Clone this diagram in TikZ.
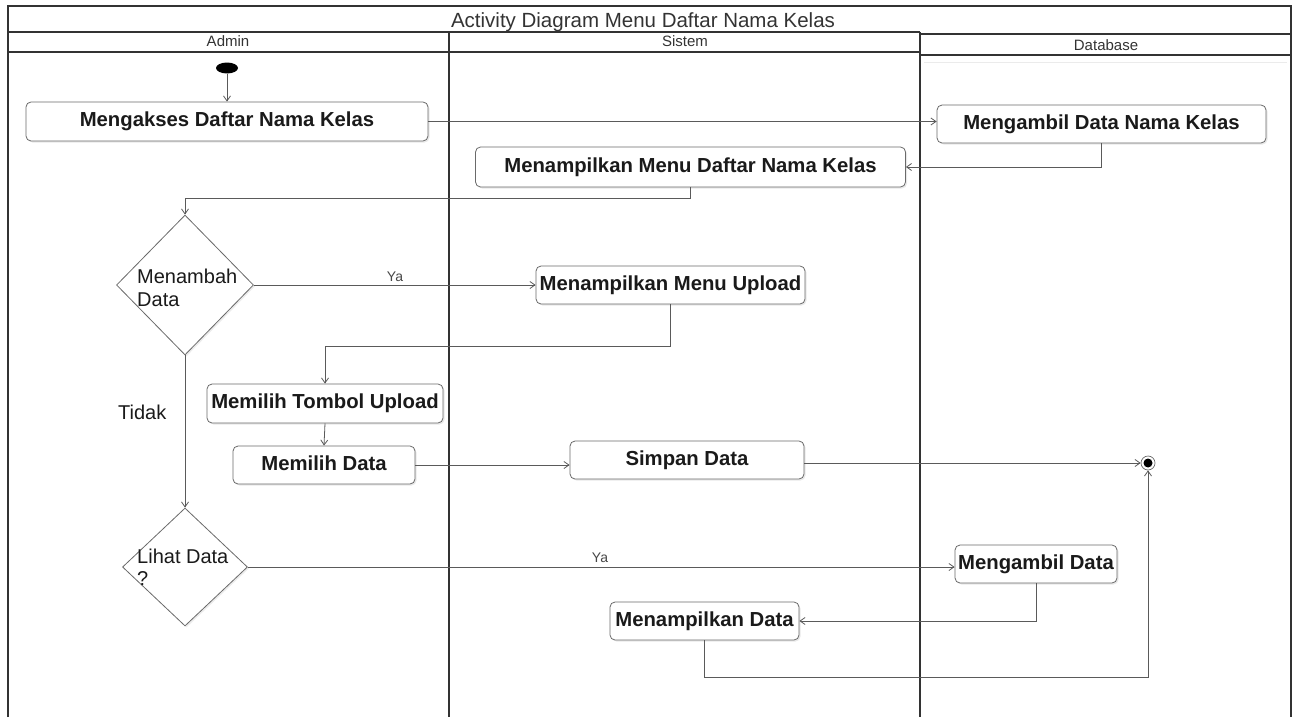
\documentclass[tikz,border=0pt]{standalone}
\usepackage{fontspec}
\setmainfont{Liberation Sans}
\usetikzlibrary{arrows.meta,shapes.geometric,shadows}
\definecolor{frame}{HTML}{333333}
\definecolor{wire}{HTML}{5A5A5A}
\definecolor{boxline}{HTML}{6A6A6A}
\definecolor{ink}{HTML}{1A1A1A}
\begin{document}
\begin{tikzpicture}[x=1pt,y=-1pt,
  lane/.style={draw=frame,line width=1.1pt},
  actbox/.style={draw=boxline,line width=0.8pt,fill=white,rounded corners=5pt,
    drop shadow={opacity=0.18,shadow xshift=1.5pt,shadow yshift=-1.5pt},
    font=\fontsize{20.3}{22}\selectfont\bfseries,text=ink,
    text height=14.5pt,text depth=4.2pt,inner sep=0pt},
  decision/.style={diamond,draw=boxline,line width=0.8pt,fill=white,inner sep=0pt,
    drop shadow={opacity=0.15,shadow xshift=1.5pt,shadow yshift=-1.5pt}},
  flow/.style={draw=wire,line width=0.8pt,-{Straight Barb[length=5pt,width=7pt]}},
  plain/.style={font=\fontsize{20}{22}\selectfont,text=ink,inner sep=0pt,anchor=base west},
  guard/.style={font=\fontsize{14}{16}\selectfont,text=frame!90,inner sep=0pt,anchor=base},
  head/.style={font=\fontsize{15}{17}\selectfont,text=frame,inner sep=0pt,anchor=base},
]
\useasboundingbox (0,0) rectangle (1297,717);

% swimlane frame
\draw[lane] (8,717) -- (8,6) -- (1291,6) -- (1291,717);
\draw[lane] (8,32) -- (920,32);
\draw[lane] (8,52) -- (920,52);
\draw[draw=frame,line width=2.2pt] (920,34) -- (1291,34);
\draw[lane] (920,55) -- (1291,55);
\draw[draw=black!8,line width=1pt] (924,62) -- (1287,62);
\draw[lane] (449,32) -- (449,717);
\draw[lane] (920,32) -- (920,717);

\node[font=\fontsize{20.5}{22}\selectfont,text=frame,inner sep=0pt,anchor=base] (title) at (643,28) {Activity Diagram Menu Daftar Nama Kelas};
\node[head] (hadmin) at (228,47) {Admin};
\node[head] (hsistem) at (685,47) {Sistem};
\node[head] (hdb) at (1106,51) {Database};

% start and end
\node[ellipse,fill=black,minimum width=22pt,minimum height=11pt,inner sep=0pt] (start) at (227,68) {};
\node[circle,draw=boxline,line width=0.7pt,fill=white,minimum size=14pt,inner sep=0pt] (final) at (1148,463) {};
\fill[black] (final.center) circle (4.5pt);

% activities
\node[actbox,minimum width=402pt,minimum height=39pt] (mengakses) at (227,121.5) {Mengakses Daftar Nama Kelas};
\node[actbox,minimum width=329pt,minimum height=38pt] (ambilkelas) at (1101.5,124) {Mengambil Data Nama Kelas};
\node[actbox,minimum width=430pt,minimum height=40pt] (tampilmenu) at (690.5,167) {Menampilkan Menu Daftar Nama Kelas};
\node[actbox,minimum width=269pt,minimum height=38pt] (upload) at (670.5,285) {Menampilkan Menu Upload};
\node[actbox,minimum width=236pt,minimum height=39pt] (tombol) at (325,403.5) {Memilih Tombol Upload};
\node[actbox,minimum width=182pt,minimum height=38pt] (pilihdata) at (324,465) {Memilih Data};
\node[actbox,minimum width=234pt,minimum height=38pt] (simpan) at (687,460) {Simpan Data};
\node[actbox,minimum width=162pt,minimum height=38pt] (ambildata) at (1036,564) {Mengambil Data};
\node[actbox,minimum width=189pt,minimum height=38pt] (tampildata) at (704.5,621) {Menampilkan Data};

% decisions
\node[decision,minimum width=137pt,minimum height=140pt] (tambah) at (185,285) {};
\node[plain] (tambahA) at (137,283) {Menambah};
\node[plain] (tambahB) at (137,306) {Data};
\node[decision,minimum width=125pt,minimum height=118pt] (lihat) at (185,567) {};
\node[plain] (lihatA) at (137,563) {Lihat Data};
\node[plain] (lihatB) at (137,585) {?};

% flows
\draw[flow] (start) -- (mengakses.north);
\draw[flow] (mengakses.east) -- (mengakses.east -| ambilkelas.west);
\draw[flow] (ambilkelas.south) |- (tampilmenu.east);
\draw[flow] (tampilmenu.south) -- ++(0,11) -| (tambah.north);
\draw[flow] (tambah.east) -- (upload.west);
\node[guard] (ya1) at (395,281) {Ya};
\draw[flow] (upload.south) -- ++(0,42) -| (tombol.north);
\draw[flow] (tombol.south) -- (pilihdata.north);
\draw[flow] (pilihdata.east) -- (pilihdata.east -| simpan.west);
\draw[flow] (final.west -| simpan.east) -- (final.west);
\draw[flow] (tambah.south) -- (lihat.north);
\node[plain] (tidak) at (118,419) {Tidak};
\draw[flow] (lihat.east) -- (lihat.east -| ambildata.west);
\node[guard] (ya2) at (600,562) {Ya};
\draw[flow] (ambildata.south) |- (tampildata.east);
\draw[flow] (tampildata.south) -- ++(0,37) -| (final.south);
\end{tikzpicture}
\end{document}
